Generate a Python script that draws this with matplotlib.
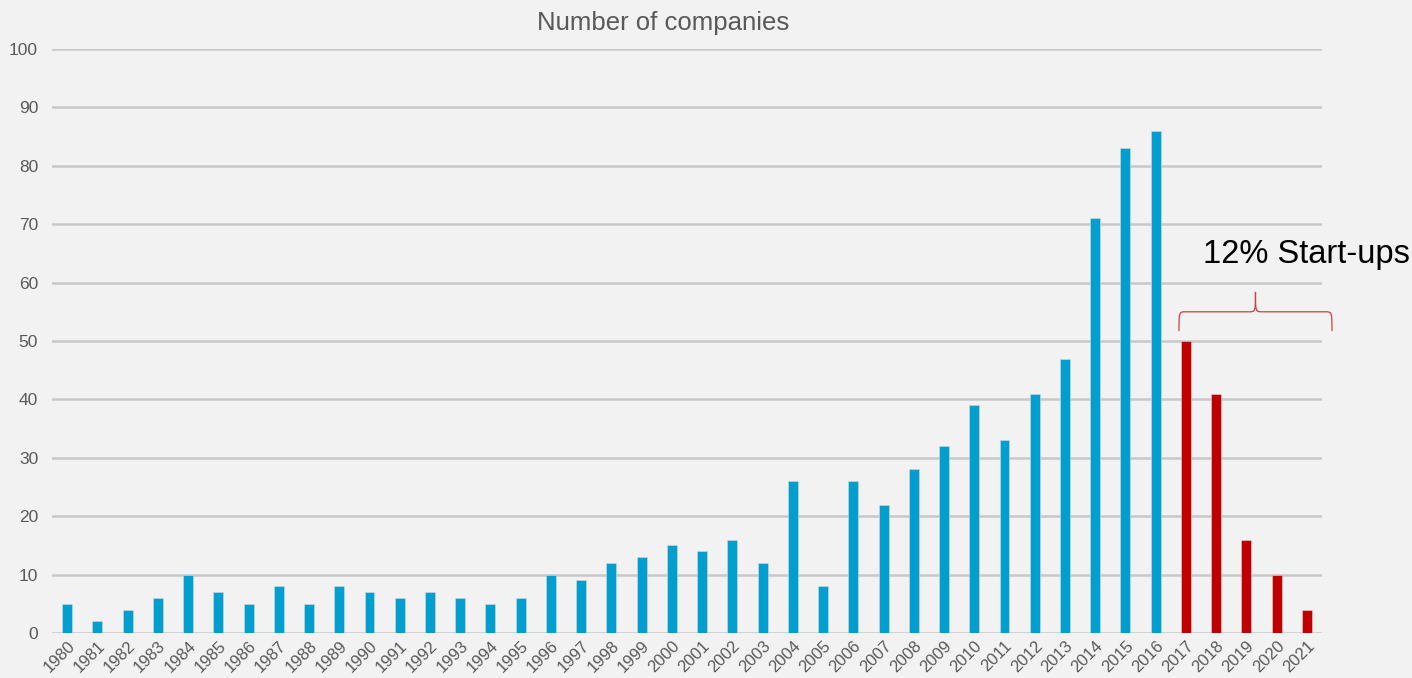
import matplotlib
matplotlib.use("Agg")
import matplotlib.pyplot as plt
from matplotlib.path import Path
from matplotlib.patches import PathPatch

years = [str(y) for y in range(1980, 2022)]
values = [5, 2, 4, 6, 10, 7, 5, 8, 5, 8, 7, 6, 7, 6, 5, 6, 10, 9, 12, 13,
          15, 14, 16, 12, 26, 8, 26, 22, 28, 32, 39, 33, 41, 47, 71, 83, 86,
          50, 41, 16, 10, 4]
startup_years = ["2017", "2018", "2019", "2020", "2021"]
title = "Number of companies"
annotation = "12% Start-ups"
yticks = list(range(0, 101, 10))

plt.rcParams['font.family'] = ['Liberation Sans', 'DejaVu Sans']
BG = "#f2f2f2"
BLUE = "#009fcf"
RED = "#c00000"
GRID = "#c8c8c8"
TXT = "#595959"

fig = plt.figure(figsize=(14.12, 6.78), dpi=100, facecolor=BG)
ax = fig.add_axes([52/1412, 1-633/678, (1322-52)/1412, (633-49)/678])
ax.set_facecolor(BG)

x = list(range(len(years)))
colors = [RED if y in startup_years else BLUE for y in years]
ax.bar(x, values, width=0.33, color=colors, edgecolor='#d8d8d8',
       linewidth=0.4, zorder=3)

ax.set_xlim(-0.5, len(years) - 0.5)
ax.set_ylim(0, 100)
ax.set_yticks(yticks)
ax.set_yticklabels([str(v) for v in yticks], fontsize=12.5, color=TXT)
ax.set_xticks(x)
ax.set_xticklabels(years, rotation=45, ha='right', rotation_mode='anchor',
                   fontsize=12, color=TXT)
ax.tick_params(axis='both', length=0)
ax.tick_params(axis='y', pad=10)
ax.tick_params(axis='x', pad=4)
ax.yaxis.grid(True, color=GRID, linewidth=1.8, zorder=1)
ax.set_axisbelow(True)
for s in ax.spines.values():
    s.set_visible(False)

fig.text(663/1412, 1-23/678, title, ha='center', va='center', fontsize=18.5, color=TXT)

# brace over start-up years
x0, x1 = 36.77, 41.83
xm = (x0 + x1) / 2
yb, yh, yp = 51.7, 55.0, 58.4
r = 0.22
verts = [
    (x0, yb), (x0, yh), (x0, yh), (x0 + r, yh),
    (xm - r, yh),
    (xm, yh), (xm, yh), (xm, yp),
    (xm, yh), (xm, yh), (xm + r, yh),
    (x1 - r, yh),
    (x1, yh), (x1, yh), (x1, yb),
]
codes = [Path.MOVETO, Path.CURVE4, Path.CURVE4, Path.CURVE4,
         Path.LINETO,
         Path.CURVE4, Path.CURVE4, Path.CURVE4,
         Path.CURVE4, Path.CURVE4, Path.CURVE4,
         Path.LINETO,
         Path.CURVE4, Path.CURVE4, Path.CURVE4]
brace = PathPatch(Path(verts, codes), facecolor='none', edgecolor='#d43c3c',
                  linewidth=0.9, clip_on=False, zorder=4)
ax.add_patch(brace)

ax.text(1203/1412, 1-254/678, annotation, transform=fig.transFigure,
        ha='left', va='center', fontsize=23.5, color='black')

fig.savefig("out.png", dpi=100, facecolor=BG)
